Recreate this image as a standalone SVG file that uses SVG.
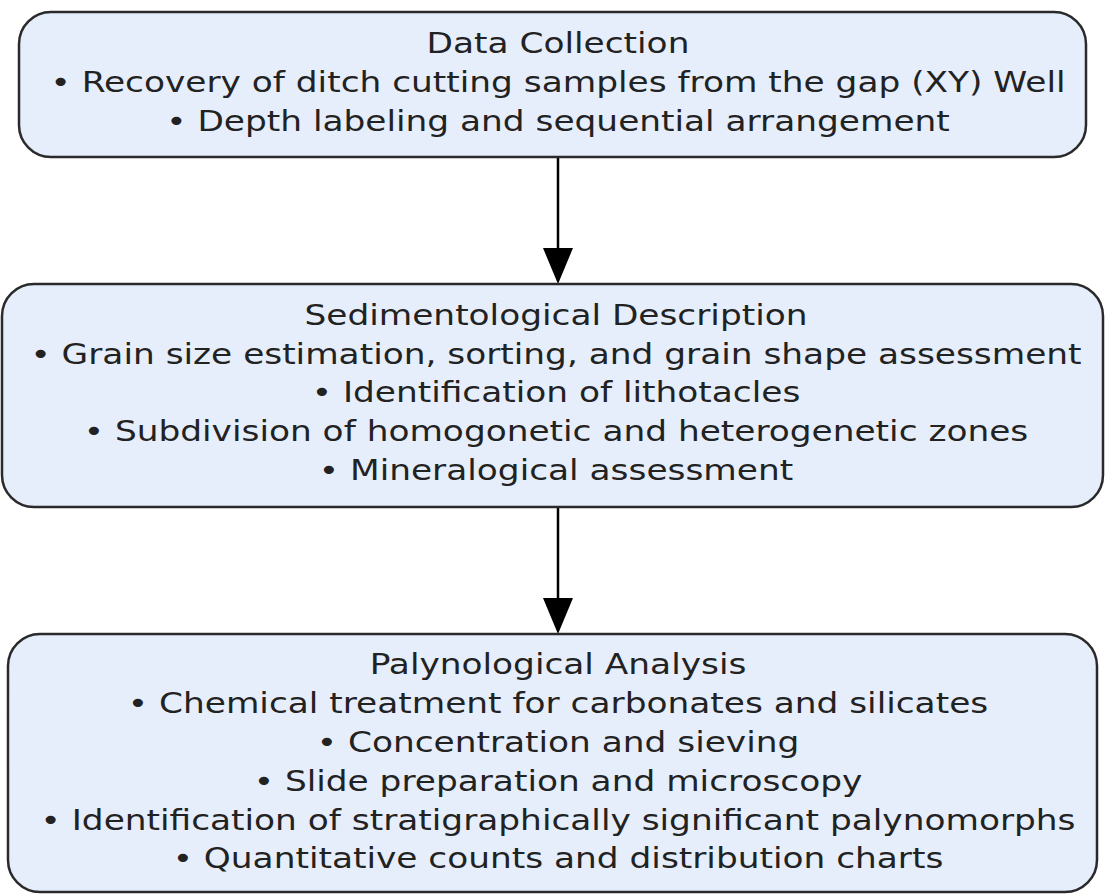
<svg xmlns="http://www.w3.org/2000/svg" width="1105" height="894" viewBox="0 0 1105 894">
<defs>
<style>
.box{fill:#e6eefb;stroke:#2a2a2a;stroke-width:2.5}
.t{font-family:"DejaVu Sans",sans-serif;font-size:28px;fill:#222;text-anchor:middle}
.e{stroke:#000;stroke-width:2.5;fill:none}
.ah{fill:#000}
</style>
</defs>
<rect width="1105" height="894" fill="#fff"/>
<g id="connectors">
<path class="e" d="M558,157 V250"/>
<path class="ah" d="M543,248 L573,248 L558,284 Z"/>
<path class="e" d="M558,507 V600"/>
<path class="ah" d="M543,598 L573,598 L558,634 Z"/>
</g>
<g id="n1">
<rect class="box" x="19" y="12" width="1067" height="145" rx="32"/>
<g transform="translate(558,0) scale(1.227,1)">
<text class="t" x="0" y="53">Data Collection</text>
<text class="t" x="0" y="92">• Recovery of ditch cutting samples from the gap (XY) Well</text>
<text class="t" x="0" y="131">• Depth labeling and sequential arrangement</text>
</g>
</g>
<g id="n2">
<rect class="box" x="2" y="284" width="1101" height="223" rx="32"/>
<g transform="translate(556,0) scale(1.227,1)">
<text class="t" x="0" y="325">Sedimentological Description</text>
<text class="t" x="0" y="364">• Grain size estimation, sorting, and grain shape assessment</text>
<text class="t" x="0" y="402">• Identification of lithotacles</text>
<text class="t" x="0" y="441">• Subdivision of homogonetic and heterogenetic zones</text>
<text class="t" x="0" y="480">• Mineralogical assessment</text>
</g>
</g>
<g id="n3">
<rect class="box" x="8" y="634" width="1089" height="258" rx="32"/>
<g transform="translate(558,0) scale(1.227,1)">
<text class="t" x="0" y="674">Palynological Analysis</text>
<text class="t" x="0" y="713">• Chemical treatment for carbonates and silicates</text>
<text class="t" x="0" y="752">• Concentration and sieving</text>
<text class="t" x="0" y="791">• Slide preparation and microscopy</text>
<text class="t" x="0" y="830">• Identification of stratigraphically significant palynomorphs</text>
<text class="t" x="0" y="868">• Quantitative counts and distribution charts</text>
</g>
</g>
</svg>
